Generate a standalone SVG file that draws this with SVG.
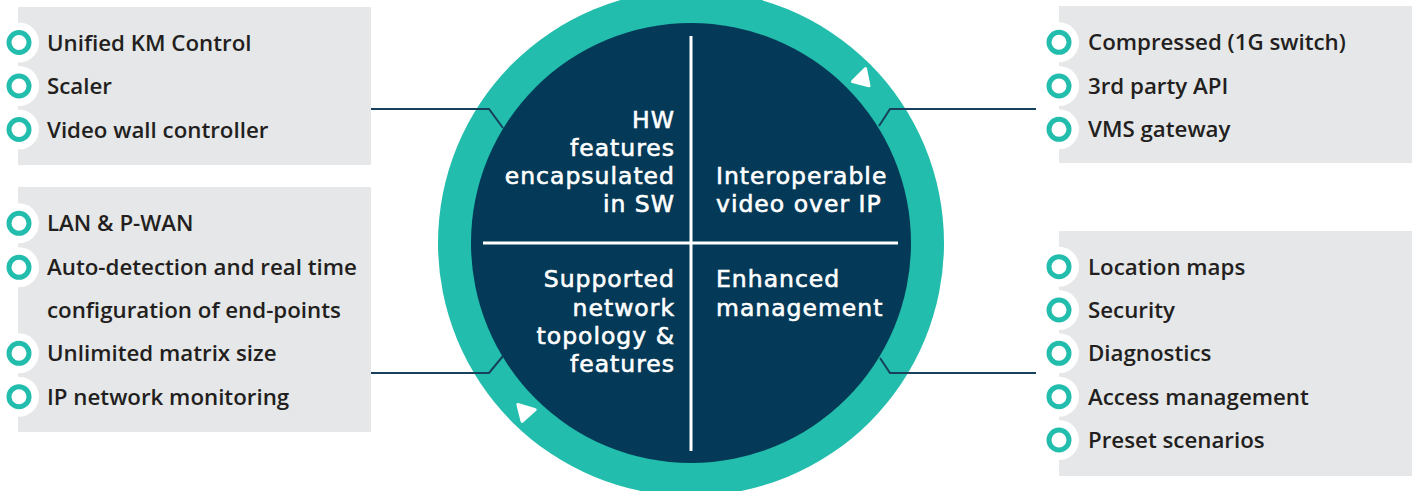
<svg xmlns="http://www.w3.org/2000/svg" width="1415" height="491" viewBox="0 0 1415 491">
<style>
.box{fill:#E6E7E8}
.halo{fill:#FFFFFF}
.dot{fill:#FFFFFF;stroke:#22BDAC;stroke-width:5}
.item{font-family:"Open Sans","Liberation Sans",sans-serif;font-weight:600;font-size:22.3px;fill:#231F20}
.q{font-family:"DejaVu Sans","Liberation Sans",sans-serif;font-weight:normal;font-size:23.5px;fill:#FFFFFF;stroke:#FFFFFF;stroke-width:0.6;letter-spacing:1px}
.qr{text-anchor:end}
.conn{fill:none;stroke:#16405C;stroke-width:2}
.div{stroke:#FFFFFF;stroke-width:3}
.tri{fill:#FFFFFF;stroke:#FFFFFF;stroke-width:3;stroke-linejoin:round}
</style>
<rect width="1415" height="491" fill="#FFFFFF"/>
<g id="hub">
<circle cx="691" cy="243" r="253" fill="#22BDAC"/>
<circle cx="691" cy="243" r="220" fill="#043A57"/>
<line class="div" x1="691" y1="36" x2="691" y2="451"/>
<line class="div" x1="483" y1="243" x2="898" y2="243"/>
<polygon class="tri" points="852.5,81.6 865.5,68.5 869,85.9"/>
<polygon class="tri" points="517.8,404.4 535.2,409.6 522.1,421.3"/>
</g>
<g id="q-hw">
<text class="q qr"><tspan x="675" y="128">HW</tspan><tspan x="675" y="156">features</tspan><tspan x="675" y="184">encapsulated</tspan><tspan x="675" y="212">in SW</tspan></text>
</g>
<g id="q-ip">
<text class="q"><tspan x="716" y="184">Interoperable</tspan><tspan x="716" y="212">video over IP</tspan></text>
</g>
<g id="q-net">
<text class="q qr"><tspan x="675" y="287">Supported</tspan><tspan x="675" y="315.5">network</tspan><tspan x="675" y="344">topology &amp;</tspan><tspan x="675" y="372">features</tspan></text>
</g>
<g id="q-mgmt">
<text class="q"><tspan x="716" y="287">Enhanced</tspan><tspan x="716" y="315.5">management</tspan></text>
</g>
<g id="connectors">
<path class="conn" d="M371,109 H489 L503,128"/>
<path class="conn" d="M371,373 H489 L503,356"/>
<path class="conn" d="M1036,109 H890 L879,126"/>
<path class="conn" d="M1036,373 H890 L880,358"/>
</g>
<g id="list-hw">
<rect class="box" x="18" y="7" width="353" height="158"/>
<circle class="halo" cx="19" cy="42.5" r="20"/>
<circle class="halo" cx="19" cy="86" r="20"/>
<circle class="halo" cx="19" cy="129.5" r="20"/>
<circle class="dot" cx="19" cy="42.5" r="10"/>
<circle class="dot" cx="19" cy="86" r="10"/>
<circle class="dot" cx="19" cy="129.5" r="10"/>
<text class="item" x="47" y="50.5">Unified KM Control</text>
<text class="item" x="47" y="94">Scaler</text>
<text class="item" x="47" y="137.5">Video wall controller</text>
</g>
<g id="list-net">
<rect class="box" x="18" y="187" width="353" height="245"/>
<circle class="halo" cx="19" cy="223.3" r="20"/>
<circle class="halo" cx="19" cy="267.3" r="20"/>
<circle class="halo" cx="19" cy="353.3" r="20"/>
<circle class="halo" cx="19" cy="396.7" r="20"/>
<circle class="dot" cx="19" cy="223.3" r="10"/>
<circle class="dot" cx="19" cy="267.3" r="10"/>
<circle class="dot" cx="19" cy="353.3" r="10"/>
<circle class="dot" cx="19" cy="396.7" r="10"/>
<text class="item" x="47" y="231">LAN &amp; P-WAN</text>
<text class="item" x="47" y="275">Auto-detection and real time</text>
<text class="item" x="47" y="318">configuration of end-points</text>
<text class="item" x="47" y="361">Unlimited matrix size</text>
<text class="item" x="47" y="404.5">IP network monitoring</text>
</g>
<g id="list-ip">
<rect class="box" x="1059" y="6" width="353" height="157"/>
<circle class="halo" cx="1059" cy="42.3" r="20"/>
<circle class="halo" cx="1059" cy="86" r="20"/>
<circle class="halo" cx="1059" cy="129.3" r="20"/>
<circle class="dot" cx="1059" cy="42.3" r="10"/>
<circle class="dot" cx="1059" cy="86" r="10"/>
<circle class="dot" cx="1059" cy="129.3" r="10"/>
<text class="item" x="1088" y="50">Compressed (1G switch)</text>
<text class="item" x="1088" y="93.5">3rd party API</text>
<text class="item" x="1088" y="137">VMS gateway</text>
</g>
<g id="list-mgmt">
<rect class="box" x="1059" y="231" width="353" height="245"/>
<circle class="halo" cx="1059" cy="266.7" r="20"/>
<circle class="halo" cx="1059" cy="310" r="20"/>
<circle class="halo" cx="1059" cy="353.3" r="20"/>
<circle class="halo" cx="1059" cy="396.7" r="20"/>
<circle class="halo" cx="1059" cy="440" r="20"/>
<circle class="dot" cx="1059" cy="266.7" r="10"/>
<circle class="dot" cx="1059" cy="310" r="10"/>
<circle class="dot" cx="1059" cy="353.3" r="10"/>
<circle class="dot" cx="1059" cy="396.7" r="10"/>
<circle class="dot" cx="1059" cy="440" r="10"/>
<text class="item" x="1088" y="274.5">Location maps</text>
<text class="item" x="1088" y="317.5">Security</text>
<text class="item" x="1088" y="361">Diagnostics</text>
<text class="item" x="1088" y="404.5">Access management</text>
<text class="item" x="1088" y="447.5">Preset scenarios</text>
</g>
</svg>
